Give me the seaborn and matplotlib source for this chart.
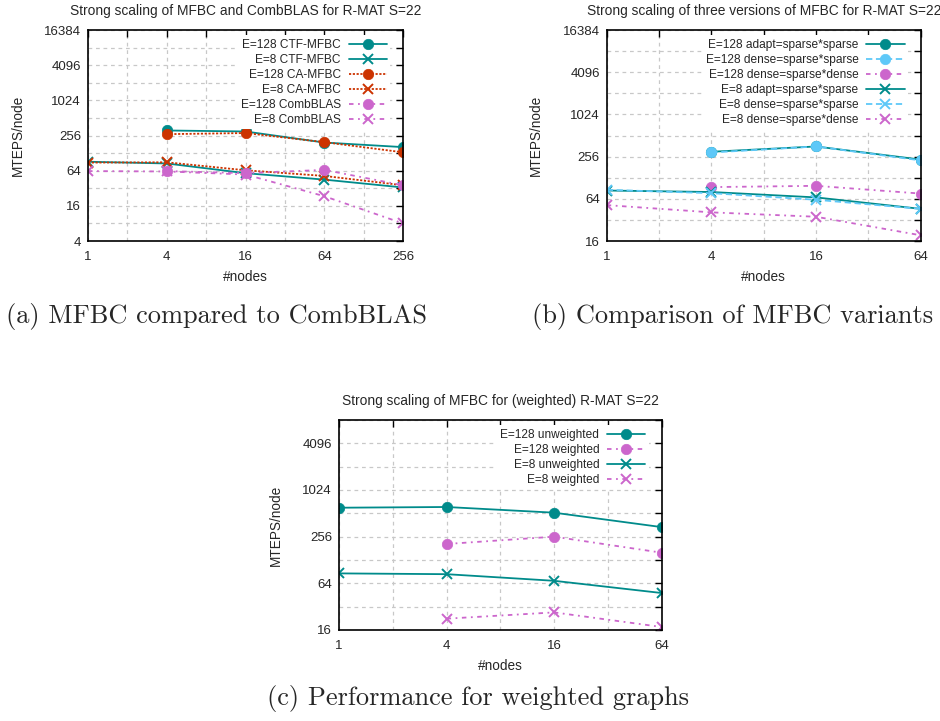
import numpy as np
import pandas as pd
import matplotlib
matplotlib.use("Agg")
import matplotlib.pyplot as plt
import seaborn as sns

sns.set_theme(style="white")
plt.rcParams['font.family'] = ['Liberation Sans', 'DejaVu Sans']

# ---------------- data ----------------
# (a) MFBC vs CombBLAS
nodes_a = [1, 4, 16, 64, 256]
a_e128_ctf = [None, 312, 300, 194, 162]
a_e8_ctf = [91, 85, 58, 45, 33]
a_e128_ca = [None, 270, 282, 197, 132]
a_e8_ca = [88, 89, 65, 52, 36]
a_e128_comb = [None, 63, 58, 66, 36]
a_e8_comb = [63, 62, 55, 23.4, 8]

# (b) MFBC variants
nodes_b = [1, 4, 16, 64]
b_e128_adapt = [None, 300, 357, 232]
b_e128_dss = [None, 293, 357, 226]
b_e128_dsd = [None, 94, 98, 76]
b_e8_adapt = [84, 80, 67, 46]
b_e8_dss = [86, 77, 62, 46]
b_e8_dsd = [52, 41, 35.5, 19.3]

# (c) weighted graphs
nodes_c = [1, 4, 16, 64]
c_e128_unw = [605, 618, 522, 340]
c_e128_w = [None, 206, 256, 159]
c_e8_unw = [86, 84, 69, 48]
c_e8_w = [None, 22.4, 27, 17.5]

TEAL = "#008b8b"
ORANGE = "#cc3300"
PINK = "#cc66cc"
LBLUE = "#5ec8f8"

SOLID = "-"
DOTTED = (0, (1.2, 0.9))
DASHDOT = (0, (2.5, 2.5, 1, 2.5))
DASHED = (0, (3.5, 2))

fig = plt.figure(figsize=(9.4, 7.21), dpi=100)


def series(ax, xs, ys, label, color, marker, ls):
    df = pd.DataFrame({"x": xs, "y": ys}).dropna()
    if marker == "o":
        mkw = dict(marker="o", markersize=7.5, markeredgecolor=color,
                   markerfacecolor=color, markeredgewidth=0.5)
    else:
        mkw = dict(marker="x", markersize=7.5, markeredgecolor=color,
                   markeredgewidth=1.4)
    sns.lineplot(data=df, x="x", y="y", ax=ax, color=color, linestyle=ls,
                 linewidth=1.3, label=label, legend=False, **mkw)


def style_axes(ax, xt, ymin, ymax, yt, title):
    ax.set_xscale("log", base=2)
    ax.set_yscale("log", base=2)
    ax.set_xlim(xt[0], xt[-1])
    ax.set_ylim(ymin, ymax)
    ax.set_xticks(xt)
    ax.set_xticklabels([str(v) for v in xt])
    ax.set_yticks(yt)
    ax.set_yticklabels([str(v) for v in yt])
    xminor = [2 ** k for k in range(int(np.log2(xt[0])), int(np.log2(xt[-1])) + 1)]
    yminor = [2 ** k for k in range(int(np.log2(ymin)), int(np.log2(ymax)) + 1)]
    ax.set_xticks([v for v in xminor if v not in xt], minor=True)
    ax.set_yticks([v for v in yminor if v not in yt], minor=True)
    ax.xaxis.set_minor_formatter(matplotlib.ticker.NullFormatter())
    ax.yaxis.set_minor_formatter(matplotlib.ticker.NullFormatter())
    ax.tick_params(which="both", direction="in", top=True, right=True,
                   length=5, width=1, color="black", labelsize=9.5)
    ax.tick_params(axis="x", pad=7)
    ax.tick_params(axis="y", pad=5)
    ax.grid(True, which="both", color="#c8c8c8", linestyle=(0, (3, 3)),
            linewidth=0.9)
    ax.set_axisbelow(True)
    for s in ax.spines.values():
        s.set_color("black")
        s.set_linewidth(1.2)
    ax.set_xlabel("#nodes", fontsize=9.8, labelpad=5.5)
    ax.set_ylabel("MTEPS/node", fontsize=9.8, labelpad=14)
    ax.set_title(title, fontsize=9.9, pad=11)


def legend(ax, anchor):
    leg = ax.legend(loc="upper right", bbox_to_anchor=anchor, markerfirst=False,
                    frameon=True, framealpha=1, facecolor="white",
                    edgecolor="white", fontsize=8.6, handlelength=3.2,
                    handletextpad=0.65, labelspacing=0.25, borderpad=0.3,
                    borderaxespad=0)
    leg.get_frame().set_linewidth(0)
    leg.set_zorder(5)


# ---- (a) ----
ax1 = fig.add_axes([88 / 940, 1 - 241 / 721, (403 - 88) / 940, (241 - 30) / 721])
series(ax1, nodes_a, a_e128_ctf, "E=128 CTF-MFBC", TEAL, "o", SOLID)
series(ax1, nodes_a, a_e8_ctf, "E=8 CTF-MFBC", TEAL, "x", SOLID)
series(ax1, nodes_a, a_e128_ca, "E=128 CA-MFBC", ORANGE, "o", DOTTED)
series(ax1, nodes_a, a_e8_ca, "E=8 CA-MFBC", ORANGE, "x", DOTTED)
series(ax1, nodes_a, a_e128_comb, "E=128 CombBLAS", PINK, "o", DASHDOT)
series(ax1, nodes_a, a_e8_comb, "E=8 CombBLAS", PINK, "x", DASHDOT)
style_axes(ax1, nodes_a, 4, 16384, [4, 16, 64, 256, 1024, 4096, 16384],
           "Strong scaling of MFBC and CombBLAS for R-MAT S=22")
legend(ax1, (0.96, 0.975))

# ---- (b) ----
ax2 = fig.add_axes([606.7 / 940, 1 - 241 / 721, (920.7 - 606.7) / 940, (241 - 30) / 721])
series(ax2, nodes_b, b_e128_adapt, "E=128 adapt=sparse*sparse", TEAL, "o", SOLID)
series(ax2, nodes_b, b_e128_dss, "E=128 dense=sparse*sparse", LBLUE, "o", DASHED)
series(ax2, nodes_b, b_e128_dsd, "E=128 dense=sparse*dense", PINK, "o", DASHDOT)
series(ax2, nodes_b, b_e8_adapt, "E=8 adapt=sparse*sparse", TEAL, "x", SOLID)
series(ax2, nodes_b, b_e8_dss, "E=8 dense=sparse*sparse", LBLUE, "x", DASHED)
series(ax2, nodes_b, b_e8_dsd, "E=8 dense=sparse*dense", PINK, "x", DASHDOT)
style_axes(ax2, nodes_b, 16, 16384, [16, 64, 256, 1024, 4096, 16384],
           "Strong scaling of three versions of MFBC for R-MAT S=22")
legend(ax2, (0.96, 0.975))

# ---- (c) ----
ax3 = fig.add_axes([339 / 940, 1 - 630 / 721, (661.7 - 339) / 940, (630 - 420) / 721])
series(ax3, nodes_c, c_e128_unw, "E=128 unweighted", TEAL, "o", SOLID)
series(ax3, nodes_c, c_e128_w, "E=128 weighted", PINK, "o", DASHDOT)
series(ax3, nodes_c, c_e8_unw, "E=8 unweighted", TEAL, "x", SOLID)
series(ax3, nodes_c, c_e8_w, "E=8 weighted", PINK, "x", DASHDOT)
style_axes(ax3, nodes_c, 16, 8192, [16, 64, 256, 1024, 4096],
           "Strong scaling of MFBC for (weighted) R-MAT S=22")
legend(ax3, (0.96, 0.975))

cap = dict(family=["cmr10", "DejaVu Serif"], fontsize=19, ha="center", va="center")
fig.text(216 / 940, 1 - 316 / 721, "(a) MFBC compared to CombBLAS", **cap)
fig.text(733 / 940, 1 - 316 / 721, "(b) Comparison of MFBC variants", **cap)
fig.text(478 / 940, 1 - 699 / 721, "(c) Performance for weighted graphs", **cap)

fig.savefig("out.png", dpi=100)
